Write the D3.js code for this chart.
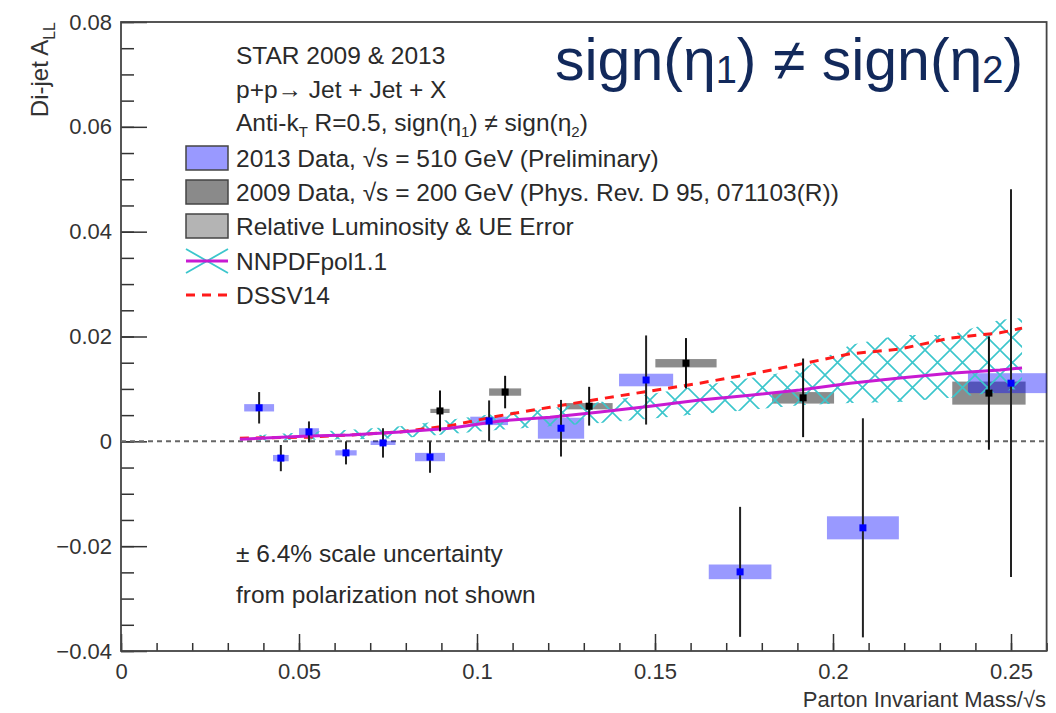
<!DOCTYPE html>
<meta charset="UTF-8">
<style>
body { margin: 0; background: #fff; }
svg { font-family: "Liberation Sans", Arial, Helvetica, sans-serif; }
.tick text { font-size: 22px; fill: #333; }
.leg { font-size: 24.5px; fill: #2a2a2a; }
</style>
<svg width="1056" height="713"></svg>
<script src="https://d3js.org/d3.v7.min.js"></script>
<script>
// 2013 data, sqrt(s) = 510 GeV
var x2013 = [0.0388, 0.0449, 0.0528, 0.0632, 0.0736, 0.0868, 0.1034, 0.1236, 0.1475, 0.1739, 0.2084, 0.2500];
var y2013 = [0.0064, -0.0032, 0.0018, -0.0022, -0.0003, -0.0030, 0.0039, 0.0025, 0.0117, -0.0249, -0.0165, 0.0111];
var stat2013 = [0.0030, 0.0025, 0.0020, 0.0022, 0.0028, 0.0030, 0.0039, 0.0054, 0.0085, 0.0124, 0.0209, 0.0370];
var sysx2013 = [0.0042, 0.0022, 0.0028, 0.0030, 0.0035, 0.0042, 0.0053, 0.0065, 0.0076, 0.0088, 0.0101, 0.0121];
var sysy2013 = [0.0007, 0.0006, 0.0007, 0.0005, 0.0004, 0.0008, 0.0008, 0.0020, 0.0012, 0.0014, 0.0022, 0.0019];

// 2009 data, sqrt(s) = 200 GeV
var x2009 = [0.0896, 0.1079, 0.1315, 0.1587, 0.1916, 0.2438];
var y2009 = [0.0058, 0.0094, 0.0067, 0.0149, 0.0083, 0.0092];
var stat2009 = [0.0039, 0.0031, 0.0037, 0.0048, 0.0075, 0.0108];
var sysx2009 = [0.0027, 0.0045, 0.0066, 0.0086, 0.0087, 0.0103];
var sysy2009 = [0.0004, 0.0007, 0.0006, 0.0008, 0.0011, 0.0022];

// theory curves
var xTheory = [0.0334, 0.0528, 0.0643, 0.0784, 0.0924, 0.1065, 0.1205, 0.1346, 0.1486, 0.1626, 0.1767, 0.1907, 0.2048, 0.2188, 0.2329, 0.2469, 0.2531];
var nnpdf   = [0.0004, 0.0010, 0.0012, 0.0018, 0.0025, 0.0039, 0.0046, 0.0056, 0.0067, 0.0079, 0.0088, 0.0098, 0.0111, 0.0121, 0.0130, 0.0136, 0.0140];
var nnpdfHi = [0.0010, 0.0018, 0.0022, 0.0029, 0.0041, 0.0054, 0.0063, 0.0075, 0.0090, 0.0106, 0.0121, 0.0136, 0.0184, 0.0203, 0.0203, 0.0232, 0.0235];
var nnpdfLo = [0.0001, 0.0003, 0.0004, 0.0006, 0.0014, 0.0022, 0.0029, 0.0035, 0.0043, 0.0052, 0.0060, 0.0069, 0.0073, 0.0075, 0.0083, 0.0094, 0.0102];
var dssv    = [0.0006, 0.0008, 0.0012, 0.0018, 0.0030, 0.0049, 0.0065, 0.0081, 0.0096, 0.0111, 0.0128, 0.0147, 0.0167, 0.0176, 0.0197, 0.0207, 0.0216];

var xTicks = [0, 0.05, 0.1, 0.15, 0.2, 0.25];
var yTicks = [-0.04, -0.02, 0, 0.02, 0.04, 0.06, 0.08];

var legendRows = [
  "STAR 2009 & 2013",
  "p+p\u2192 Jet + Jet + X"
];

var svg = d3.select("svg");
var x = d3.scaleLinear().domain([0, 0.26]).range([121, 1046.6]);
var y = d3.scaleLinear().domain([-0.04, 0.08]).range([651, 22]);

var defs = svg.append("defs");
defs.append("clipPath").attr("id", "frame")
  .append("rect").attr("x", 121).attr("y", 22).attr("width", 925.6).attr("height", 629);
var pat = defs.append("pattern").attr("id", "hatch")
  .attr("patternUnits", "userSpaceOnUse").attr("width", 25).attr("height", 25);
pat.append("path").attr("d", "M0,0L25,25M25,0L0,25")
  .attr("stroke", "#3cc6cc").attr("stroke-width", 1.6).attr("fill", "none");

// axes
function fmt(d) { return d === 0 ? "0" : (d < 0 ? "\u2212" : "") + d3.format(".2~f")(Math.abs(d)); }

svg.append("g").attr("transform", "translate(0,651)")
  .call(d3.axisBottom(x).tickValues(d3.range(0, 0.2601, 0.01)).tickSize(-8).tickFormat(""))
  .call(g => g.select(".domain").remove());
svg.append("g").attr("transform", "translate(0,651)")
  .call(d3.axisBottom(x).tickValues(xTicks).tickSize(-17).tickPadding(12).tickFormat(fmt))
  .call(g => g.select(".domain").remove());
svg.append("g").attr("transform", "translate(121,0)")
  .call(d3.axisLeft(y).tickValues(d3.range(-0.04, 0.0801, 0.005)).tickSize(-13).tickFormat(""))
  .call(g => g.select(".domain").remove());
svg.append("g").attr("transform", "translate(121,0)")
  .call(d3.axisLeft(y).tickValues(yTicks).tickSize(-26).tickPadding(9).tickFormat(fmt))
  .call(g => g.select(".domain").remove());
svg.selectAll(".tick line").attr("stroke", "#333").attr("stroke-width", 1.5);

svg.append("rect").attr("x", 121).attr("y", 22).attr("width", 925.6).attr("height", 629)
  .attr("fill", "none").attr("stroke", "#444").attr("stroke-width", 1.8);

// axis titles
svg.append("text").attr("x", 1046).attr("y", 707).attr("text-anchor", "end")
  .style("font-size", "22px").attr("fill", "#333")
  .text("Parton Invariant Mass/\u221As");
var yl = svg.append("text").attr("transform", "translate(48,22) rotate(-90)")
  .attr("text-anchor", "end").style("font-size", "24px").attr("fill", "#333");
yl.append("tspan").text("Di-jet A");
yl.append("tspan").attr("dy", 7).style("font-size", "16px").text("LL");

var plot = svg.append("g").attr("clip-path", "url(#frame)");

// zero line
plot.append("line").attr("x1", x(0)).attr("x2", x(0.26)).attr("y1", y(0)).attr("y2", y(0))
  .attr("stroke", "#666").attr("stroke-width", 2).attr("stroke-dasharray", "5,4");

// systematic boxes
var d2009 = x2009.map((v, i) => ({x: v, y: y2009[i], e: stat2009[i], sx: sysx2009[i], sy: sysy2009[i]}));
var d2013 = x2013.map((v, i) => ({x: v, y: y2013[i], e: stat2013[i], sx: sysx2013[i], sy: sysy2013[i]}));

function boxes(data, fill, op) {
  plot.append("g").selectAll("rect").data(data).enter().append("rect")
    .attr("x", d => x(d.x - d.sx)).attr("width", d => x(d.x + d.sx) - x(d.x - d.sx))
    .attr("y", d => y(d.y + d.sy)).attr("height", d => y(d.y - d.sy) - y(d.y + d.sy))
    .attr("fill", fill).attr("fill-opacity", op);
}
boxes(d2009, "#000", 0.45);
boxes(d2013, "#0000ff", 0.4);

// NNPDF band + curves
var th = xTheory.map((v, i) => ({x: v, c: nnpdf[i], hi: nnpdfHi[i], lo: nnpdfLo[i], d: dssv[i]}));
plot.append("path").datum(th)
  .attr("d", d3.area().x(d => x(d.x)).y0(d => y(d.lo)).y1(d => y(d.hi)))
  .attr("fill", "url(#hatch)");
plot.append("path").datum(th)
  .attr("d", d3.line().x(d => x(d.x)).y(d => y(d.d)))
  .attr("fill", "none").attr("stroke", "#ff1a1a").attr("stroke-width", 3).attr("stroke-dasharray", "9,7");
plot.append("path").datum(th)
  .attr("d", d3.line().x(d => x(d.x)).y(d => y(d.c)))
  .attr("fill", "none").attr("stroke", "#c81ad2").attr("stroke-width", 3);

// stat error bars and markers
function points(data, col, barCol) {
  var g = plot.append("g");
  g.selectAll("line").data(data).enter().append("line")
    .attr("x1", d => x(d.x)).attr("x2", d => x(d.x))
    .attr("y1", d => y(d.y - d.e)).attr("y2", d => y(d.y + d.e))
    .attr("stroke", barCol).attr("stroke-width", 2);
  g.selectAll("rect").data(data).enter().append("rect")
    .attr("x", d => x(d.x) - 3.5).attr("y", d => y(d.y) - 3.5)
    .attr("width", 7).attr("height", 7).attr("fill", col);
}
points(d2009, "#000", "#111");
points(d2013, "#0000ff", "#222");

// legend
var lx = 236;
svg.append("text").attr("class", "leg").attr("x", lx).attr("y", 64).text(legendRows[0]);
svg.append("text").attr("class", "leg").attr("x", lx).attr("y", 98).text(legendRows[1]);
var ak = svg.append("text").attr("class", "leg").attr("x", lx).attr("y", 131);
ak.append("tspan").text("Anti-k");
ak.append("tspan").attr("dy", 6).style("font-size", "15px").text("T");
ak.append("tspan").attr("dy", -6).text(" R=0.5, sign(\u03B7");
ak.append("tspan").attr("dy", 6).style("font-size", "15px").text("1");
ak.append("tspan").attr("dy", -6).text(") \u2260 sign(\u03B7");
ak.append("tspan").attr("dy", 6).style("font-size", "15px").text("2");
ak.append("tspan").attr("dy", -6).text(")");

var legItems = [
  {t: "2013 Data, \u221As = 510 GeV (Preliminary)", fill: "#9999ff", cy: 158},
  {t: "2009 Data, \u221As = 200 GeV (Phys. Rev. D 95, 071103(R))", fill: "#8a8a8a", cy: 192},
  {t: "Relative Luminosity & UE Error", fill: "#b4b4b4", cy: 226}
];
legItems.forEach(function (d) {
  svg.append("rect").attr("x", 186).attr("y", d.cy - 12).attr("width", 42).attr("height", 24)
    .attr("fill", d.fill).attr("stroke", "#444").attr("stroke-width", 1.5);
  svg.append("text").attr("class", "leg").attr("x", lx).attr("y", d.cy + 9).text(d.t);
});
svg.append("path").attr("d", "M186,249L228,273M228,249L186,273")
  .attr("stroke", "#3cc6cc").attr("stroke-width", 1.8);
svg.append("line").attr("x1", 186).attr("x2", 228).attr("y1", 261).attr("y2", 261)
  .attr("stroke", "#c81ad2").attr("stroke-width", 3);
svg.append("text").attr("class", "leg").attr("x", lx).attr("y", 270).text("NNPDFpol1.1");
svg.append("line").attr("x1", 186).attr("x2", 228).attr("y1", 295).attr("y2", 295)
  .attr("stroke", "#ff1a1a").attr("stroke-width", 3).attr("stroke-dasharray", "9,7");
svg.append("text").attr("class", "leg").attr("x", lx).attr("y", 304).text("DSSV14");

svg.append("text").attr("class", "leg").attr("x", lx).attr("y", 562).text("\u00B1 6.4% scale uncertainty");
svg.append("text").attr("class", "leg").attr("x", lx).attr("y", 603).text("from polarization not shown");

// big label
var big = svg.append("text").attr("x", 555).attr("y", 80).style("font-size", "59px").attr("fill", "#12295b");
big.append("tspan").text("sign(\u03B7");
big.append("tspan").attr("dy", 3).style("font-size", "38px").text("1");
big.append("tspan").attr("dy", -3).text(") \u2260 sign(\u03B7");
big.append("tspan").attr("dy", 3).style("font-size", "38px").text("2");
big.append("tspan").attr("dy", -3).text(")");
</script>
